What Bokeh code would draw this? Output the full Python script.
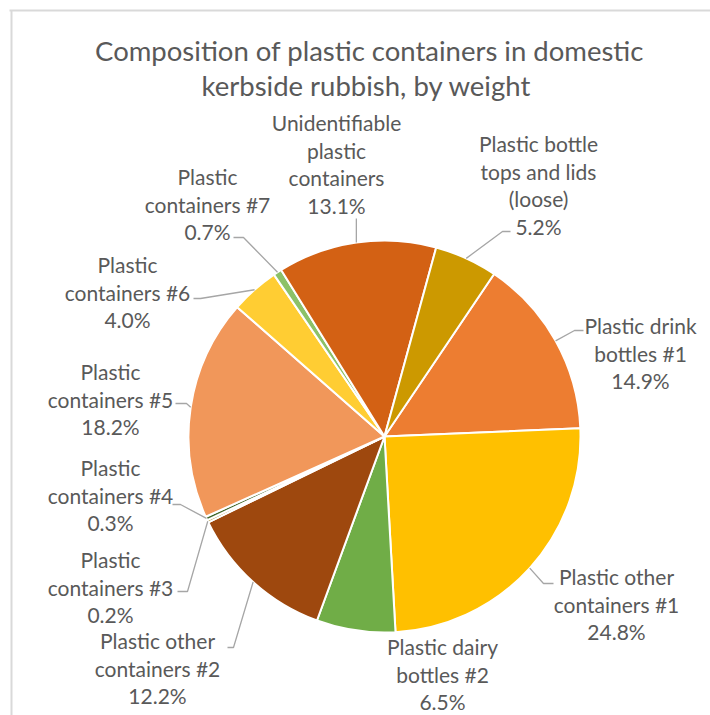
import math
from bokeh.plotting import figure
from bokeh.models import ColumnDataSource, Range1d
from bokeh.core.properties import value
from bokeh.embed import file_html
from bokeh.resources import INLINE

# ---------------- data ----------------
title_lines = ["Composition of plastic containers in domestic",
               "kerbside rubbish, by weight"]

categories = [
    "Plastic drink bottles #1",
    "Plastic other containers #1",
    "Plastic dairy bottles #2",
    "Plastic other containers #2",
    "Plastic containers #3",
    "Plastic containers #4",
    "Plastic containers #5",
    "Plastic containers #6",
    "Plastic containers #7",
    "Unidentifiable plastic containers",
    "Plastic bottle tops and lids (loose)",
]
shares = [14.9, 24.8, 6.5, 12.2, 0.2, 0.3, 18.2, 4.0, 0.7, 13.1, 5.2]
label_lines = [
    ["Plastic drink", "bottles #1"],
    ["Plastic other", "containers #1"],
    ["Plastic dairy", "bottles #2"],
    ["Plastic other", "containers #2"],
    ["Plastic", "containers #3"],
    ["Plastic", "containers #4"],
    ["Plastic", "containers #5"],
    ["Plastic", "containers #6"],
    ["Plastic", "containers #7"],
    ["Unidentifiable", "plastic", "containers"],
    ["Plastic bottle", "tops and lids", "(loose)"],
]
colors = ["#ED7D31", "#FFC000", "#70AD47", "#9E480E", "#997300", "#43682B",
          "#F1975A", "#FFCD33", "#8CC168", "#D36114", "#CC9900"]

# ---------------- layout (pixel coordinates, y measured from top) ----------------
CX, CY, R = 384.0, 436.0, 196.0
START_CW = 34.0  # degrees clockwise from 12 o'clock where the first slice starts

label_pos = [
    (640, 325), (616, 576), (442, 646), (157, 640), (110, 559), (110, 467),
    (110, 371), (127, 264), (207, 176), (336, 122), (538, 143),
]
LINE_STEP = 27.5
leaders = [
    (583, 574, 330), (553, 543, 583), None, (227, 233, 647), (177, 187, 591),
    (172, 180, 504), (175, 186, 403), (193, 200, 298), (233, 243, 237),
    "v", (510, 502, 231),
]

W, H = 710, 715
p = figure(width=W, height=H, output_backend="svg", toolbar_location=None,
           x_range=Range1d(0, W), y_range=Range1d(-H, 0),
           min_border=0, outline_line_color=None)
p.axis.visible = False
p.grid.visible = False
p.background_fill_color = "white"
p.border_fill_color = "white"

# chart border (top and left edges visible in the crop)
p.line([9, 720], [-10, -10], line_color="#D9D9D9", line_width=2)
p.line([11, 11], [-10, -720], line_color="#D9D9D9", line_width=2)

total = sum(shares)
starts, ends, mids = [], [], []
acc = START_CW
for s in shares:
    a0 = acc
    a1 = acc + s / total * 360.0
    acc = a1
    starts.append(math.radians(90 - a1))
    ends.append(math.radians(90 - a0))
    mids.append((a0 + a1) / 2)

src = ColumnDataSource(dict(x=[CX] * len(shares), y=[-CY] * len(shares),
                            start=starts, end=ends, color=colors, name=categories))
p.wedge(x="x", y="y", radius=R, start_angle="start", end_angle="end",
        fill_color="color", line_color="white", line_width=2, source=src)

# leader lines
lx, ly = [], []
for i, ld in enumerate(leaders):
    if ld is None:
        continue
    m = math.radians(mids[i])
    px = CX + R * math.sin(m)
    py = CY - R * math.cos(m)
    if ld == "v":
        lx.append([px, px])
        ly.append([-218, -py])
    else:
        xs_, xe_, yy = ld
        lx.append([xs_, xe_, px])
        ly.append([-yy, -yy, -py])
p.multi_line(lx, ly, line_color="#A6A6A6", line_width=1.3)

# labels
tx, ty, tt = [], [], []
for i, lines in enumerate(label_lines):
    cx, y0 = label_pos[i]
    full = lines + [f"{shares[i]:.1f}%"]
    for k, t in enumerate(full):
        tx.append(cx)
        ty.append(-(y0 + k * LINE_STEP))
        tt.append(t)
p.text(x=tx, y=ty, text=tt, text_align="center", text_baseline="middle",
       text_font=value("Lato"), text_font_size="21px", text_color="#595959")

# title
p.text(x=[369, 366], y=[-50, -85], text=title_lines, text_align="center",
       text_baseline="middle", text_font=value("Lato"), text_font_size="27.5px",
       text_color="#595959")

open("out.html", "w").write(file_html(p, INLINE))
